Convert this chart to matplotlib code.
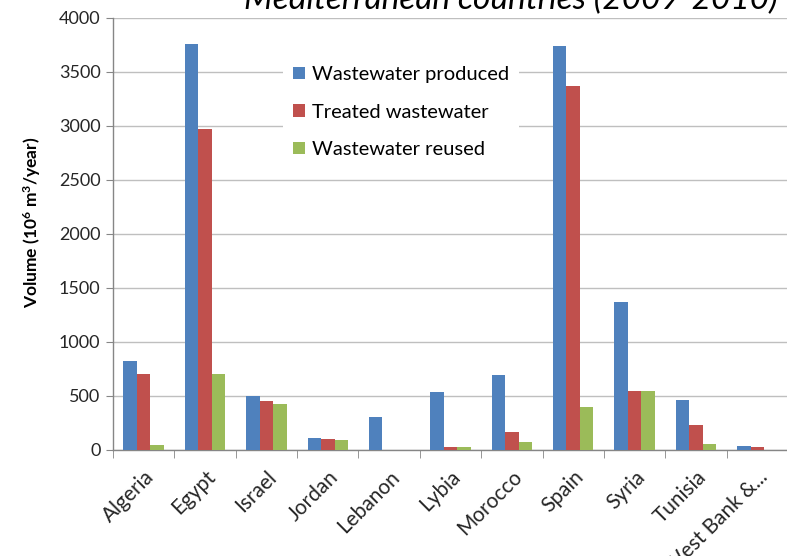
import matplotlib
matplotlib.use("Agg")
import matplotlib.pyplot as plt
import numpy as np

countries = ["Algeria", "Egypt", "Israel", "Jordan", "Lebanon", "Lybia",
             "Morocco", "Spain", "Syria", "Tunisia", "West Bank &..."]
produced = [820, 3760, 500, 110, 305, 540, 695, 3740, 1370, 460, 40]
treated = [700, 2970, 450, 105, 0, 30, 170, 3370, 550, 235, 25]
reused = [50, 700, 430, 95, 0, 30, 70, 400, 550, 60, 0]
series_names = ["Wastewater produced", "Treated wastewater", "Wastewater reused"]
colors = ["#4F81BD", "#C0504D", "#9BBB59"]

plt.rcParams["font.family"] = ["Lato", "DejaVu Sans"]
plt.rcParams["mathtext.default"] = "regular"

W, H = 787, 556
fig = plt.figure(figsize=(W / 100, H / 100), dpi=100)
ax = fig.add_axes([113 / W, (H - 450) / H, 675 / W, 432 / H])

x = np.arange(len(countries))
bw = 0.22
for i, (vals, name, c) in enumerate(zip([produced, treated, reused], series_names, colors)):
    ax.bar(x + (i - 1) * bw, vals, bw, color=c, label=name, zorder=3)

ax.set_xlim(-0.5, len(countries) - 0.5)
ax.set_ylim(0, 4000)
ax.set_yticks(range(0, 4001, 500))
ax.yaxis.grid(True, color="#BFBFBF", linewidth=1.0, zorder=0)
ax.set_axisbelow(True)

for side in ["top", "right"]:
    ax.spines[side].set_visible(False)
for side in ["left", "bottom"]:
    ax.spines[side].set_color("#868686")
    ax.spines[side].set_linewidth(1.0)

ax.set_xticks(x)
ax.set_xticklabels(countries, rotation=45, ha="right", rotation_mode="anchor",
                   fontsize=15, color="#262626")
ax.tick_params(axis="x", length=0, pad=12)
ax.set_xticks(np.arange(-0.5, len(countries) + 0.5, 1), minor=True)
ax.tick_params(axis="x", which="minor", length=6, color="#868686", direction="out")
ax.tick_params(axis="y", length=5, color="#868686", labelsize=13,
               labelcolor="#262626", pad=4)

ax.set_ylabel("Volume (10$^6$ m$^3$/year)", fontsize=12.5, fontweight="bold")
ax.yaxis.set_label_coords((43 - 113) / 675, (450 - 222) / 432)

leg = ax.legend(loc="upper left", bbox_to_anchor=(283 / W, 1 - 56 / H),
                bbox_transform=fig.transFigure, fontsize=14.5, frameon=True,
                fancybox=False, edgecolor="none", framealpha=1,
                handlelength=0.6, handleheight=0.6, handletextpad=0.35,
                labelspacing=1.02, borderpad=0.5, borderaxespad=0)
leg.set_zorder(5)

fig.text(511 / W, 1 - 9 / H, "Mediterranean countries (2009-2010)",
         fontsize=24, style="italic", ha="center", va="baseline")

fig.savefig("out.png", dpi=100)
